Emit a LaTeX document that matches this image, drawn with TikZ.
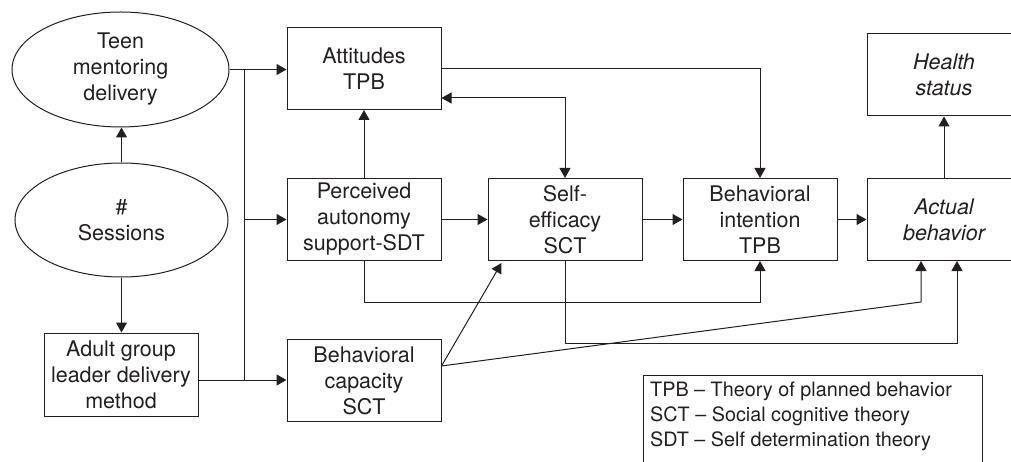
\documentclass[tikz,border=0pt]{standalone}
\usepackage{fontspec}
\setmainfont{TeX Gyre Heros}
\usetikzlibrary{arrows.meta,shapes.geometric}
\definecolor{ink}{HTML}{231F20}
\tikzset{
  every node/.style={font=\fontsize{21.5}{26}\selectfont, text=ink},
  boxnode/.style={draw=ink, line width=1pt, rectangle, minimum width=154pt, minimum height=82pt, inner sep=0pt, align=center},
  ovalnode/.style={draw=ink, line width=1pt, ellipse, inner sep=0pt, align=center},
  keytext/.style={font=\fontsize{19.8}{24.8}\selectfont, align=left},
  link/.style={draw=ink, line width=1pt},
  arr/.style={link, -{Triangle[length=10pt,width=11pt]}},
  dblarr/.style={link, {Triangle[length=10pt,width=11pt]}-{Triangle[length=10pt,width=11pt]}},
}
\begin{document}
\begin{tikzpicture}[x=1pt, y=-1pt]
\useasboundingbox (0,0) rectangle (1011,462);
\clip (0,0) rectangle (1011,462);

% program inputs
\node[ovalnode, minimum width=217pt, minimum height=115pt] (teen) at (120.5,69.5) {Teen\\mentoring\\delivery};
\node[ovalnode, minimum width=213pt, minimum height=114pt] (sess) at (121.5,220) {\#\\Sessions};
\node[boxnode, minimum height=83pt] (adult) at (121,374.5) {Adult group\\leader delivery\\method};

% theory constructs
\node[boxnode] (att)  at (364,68.5)  {Attitudes\\TPB};
\node[boxnode] (perc) at (364,219.5) {Perceived\\autonomy\\support-SDT};
\node[boxnode] (cap)  at (364,380.5) {Behavioral\\capacity\\SCT};
\node[boxnode] (se)   at (565,219.5) {Self-\\efficacy\\SCT};
\node[boxnode] (bi)   at (760,219.5) {Behavioral\\intention\\TPB};
\node[boxnode] (act)  at (944,219.5) {\itshape Actual\\\itshape behavior};
\node[boxnode] (hs)   at (944,75)    {\itshape Health\\\itshape status};

% abbreviations
\draw[link] (643,475) |- (982,375) -- (982,475);
\node[keytext, anchor=north west, inner xsep=7pt, inner ysep=0pt] (legend) at (643,382)
  {TPB -- Theory of planned behavior\\SCT -- Social cognitive theory\\SDT -- Self determination theory};

% distribution bus from the delivery modes
\coordinate (bustop) at (244,69.5);
\coordinate (busbot) at (244,380);
\draw[link] (bustop) -- (busbot);
\draw[arr] (teen.east) -- (teen.east -| att.west);
\draw[arr] (perc.west -| bustop) -- (perc.west);
\draw[arr] (adult.east |- busbot) -- (busbot -| cap.west);

% sessions
\draw[arr] (sess.north) -- (sess.north |- teen.south);
\draw[arr] (sess.south) -- (sess.south |- adult.north);

% main chain
\draw[arr] (perc.north) -- (att.south);
\draw[arr] (perc.east) -- (se.west);
\draw[arr] (se.east) -- (bi.west);
\draw[arr] (bi.east) -- (act.west);
\draw[arr] (act.north) -- (hs.south);

% attitudes links
\draw[arr] (att.east) -| (bi.north);
\draw[dblarr] ([yshift=12pt]att.south east) -| (se.north);

% lower paths
\draw[arr] (perc.south) -- ++(0,41) -| (bi.south);
\draw[arr] (se.south) -- ++(0,82) -| ([xshift=13pt]act.south);

% behavioral capacity
\coordinate (capout) at ([yshift=14.5pt]cap.east);
\coordinate (setip) at ([xshift=14pt,yshift=-2pt]se.south west);
\coordinate (actbend) at ([xshift=-23pt,yshift=-41pt]act.south);
\draw[arr] (capout) -- (setip);
\draw[arr] (capout) -- (actbend) -- ([xshift=-23pt]act.south);
\end{tikzpicture}
\end{document}
